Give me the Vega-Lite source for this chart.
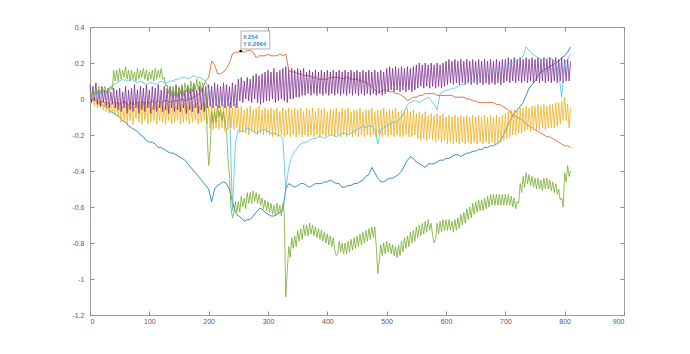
{
"$schema":"https://vega.github.io/schema/vega-lite/v6.json",
"width":534,"height":288,
"autosize":{"type":"none"},
"padding":{"left":90,"top":27,"right":66,"bottom":39},
"background":"white",
"config":{"view":{"stroke":"#a0a0a0","strokeWidth":1},"axis":{"domain":false,"ticks":true,"tickColor":"#8c8c8c","labelColor":"#595959","labelFont":"Liberation Sans","labelFontSize":7,"grid":false,"tickSize":4,"tickWidth":1,"title":null}},
"datasets":{"lines":[
{"x":0,"a":0.0,"b":0.0,"c":0.02,"d":0.08,"e":0.04,"f":0.0},
{"x":2.5,"c":-0.02,"d":-0.02,"e":0.02},
{"x":5,"a":0.01,"b":-0.01,"c":0.01,"d":0.07,"e":0.06,"f":0.01},
{"x":7.5,"c":-0.04,"d":-0.01,"e":0.02},
{"x":10,"a":-0.01,"b":-0.01,"c":0.01,"d":0.09,"e":0.05,"f":0.02},
{"x":12.5,"c":-0.05,"d":-0.03,"e":0.03},
{"x":15,"a":-0.02,"b":-0.02,"c":-0.01,"d":0.05,"e":0.07,"f":0.03},
{"x":17.5,"c":-0.05,"d":-0.04,"e":0.03},
{"x":20,"a":-0.03,"b":-0.01,"c":-0.01,"d":0.07,"e":0.06,"f":0.04},
{"x":22.5,"c":-0.06,"d":-0.02,"e":0.04},
{"x":25,"a":-0.04,"b":-0.02,"c":-0.02,"d":0.05,"e":0.07,"f":0.03},
{"x":27.5,"c":-0.07,"d":-0.04,"e":0.03},
{"x":30,"a":-0.05,"b":-0.02,"c":-0.02,"d":0.06,"e":0.06,"f":0.05},
{"x":32.5,"c":-0.08,"d":-0.05,"e":0.04},
{"x":35,"a":-0.07,"b":-0.03,"c":-0.03,"d":0.04,"e":0.07,"f":0.07},
{"x":37.5,"c":-0.07,"d":-0.03,"e":0.05},
{"x":40,"a":-0.08,"b":-0.02,"c":-0.03,"d":0.06,"e":0.16,"f":0.08},
{"x":42.5,"c":-0.09,"d":-0.05,"e":0.1},
{"x":45,"a":-0.09,"b":-0.02,"c":-0.02,"d":0.05,"e":0.16,"f":0.09},
{"x":47.5,"c":-0.1,"d":-0.06,"e":0.1},
{"x":50,"a":-0.1,"b":-0.03,"c":-0.02,"d":0.06,"e":0.17,"f":0.1},
{"x":52.5,"c":-0.13,"d":-0.07,"e":0.11},
{"x":55,"a":-0.12,"b":-0.02,"c":-0.04,"d":0.04,"e":0.16,"f":0.11},
{"x":57.5,"c":-0.12,"d":-0.05,"e":0.12},
{"x":60,"a":-0.13,"b":-0.02,"c":-0.01,"d":0.07,"e":0.18,"f":0.1},
{"x":62.5,"c":-0.14,"d":-0.08,"e":0.11},
{"x":65,"a":-0.15,"b":-0.03,"c":-0.03,"d":0.05,"e":0.16,"f":0.1},
{"x":67.5,"c":-0.12,"d":-0.06,"e":0.1},
{"x":70,"a":-0.16,"b":-0.02,"c":-0.02,"d":0.06,"e":0.16,"f":0.11},
{"x":72.5,"c":-0.14,"d":-0.07,"e":0.11},
{"x":75,"a":-0.17,"b":-0.03,"c":-0.04,"d":0.08,"e":0.15,"f":0.1},
{"x":77.5,"c":-0.11,"d":-0.05,"e":0.1},
{"x":80,"a":-0.18,"b":-0.02,"c":-0.02,"d":0.05,"e":0.17,"f":0.09},
{"x":82.5,"c":-0.13,"d":-0.08,"e":0.11},
{"x":85,"a":-0.2,"b":-0.02,"c":-0.03,"d":0.07,"e":0.16,"f":0.1},
{"x":87.5,"c":-0.14,"d":-0.06,"e":0.12},
{"x":90,"a":-0.21,"b":-0.03,"c":-0.01,"d":0.06,"e":0.17,"f":0.09},
{"x":92.5,"c":-0.12,"d":-0.07,"e":0.11},
{"x":95,"a":-0.23,"b":-0.02,"c":-0.03,"d":0.08,"e":0.16,"f":0.08},
{"x":97.5,"c":-0.14,"d":-0.05,"e":0.1},
{"x":100,"a":-0.24,"b":-0.02,"c":-0.02,"d":0.05,"e":0.15,"f":0.09},
{"x":102.5,"c":-0.13,"d":-0.08,"e":0.11},
{"x":105,"a":-0.24,"b":-0.01,"c":-0.04,"d":0.07,"e":0.16,"f":0.09},
{"x":107.5,"c":-0.12,"d":-0.06,"e":0.1},
{"x":110,"a":-0.25,"b":-0.02,"c":-0.02,"d":0.06,"e":0.17,"f":0.08},
{"x":112.5,"c":-0.14,"d":-0.07,"e":0.11},
{"x":115,"a":-0.27,"b":-0.01,"c":-0.03,"d":0.08,"e":0.16,"f":0.09},
{"x":117.5,"c":-0.12,"d":-0.05,"e":0.12},
{"x":120,"a":-0.27,"b":-0.02,"c":-0.02,"d":0.05,"e":0.17,"f":0.1},
{"x":122.5,"c":-0.13,"d":-0.07,"e":0.11},
{"x":125,"a":-0.28,"b":-0.01,"c":-0.04,"d":0.07,"e":0.12,"f":0.09},
{"x":127.5,"c":-0.14,"d":-0.06,"e":0.07},
{"x":130,"a":-0.29,"b":-0.01,"c":-0.02,"d":0.06,"e":0.08,"f":0.09},
{"x":132.5,"c":-0.12,"d":-0.08,"e":0.03},
{"x":135,"a":-0.3,"b":-0.02,"c":-0.03,"d":0.07,"e":0.07,"f":0.1},
{"x":137.5,"c":-0.14,"d":-0.05,"e":0.02},
{"x":140,"a":-0.3,"b":-0.01,"c":-0.02,"d":0.05,"e":0.07,"f":0.1},
{"x":142.5,"c":-0.13,"d":-0.07,"e":0.02},
{"x":145,"a":-0.31,"b":-0.01,"c":-0.04,"d":0.08,"e":0.06,"f":0.11},
{"x":147.5,"c":-0.12,"d":-0.06,"e":0.01},
{"x":150,"a":-0.32,"b":-0.01,"c":-0.02,"d":0.06,"e":0.07,"f":0.11},
{"x":152.5,"c":-0.14,"d":-0.07,"e":0.03},
{"x":155,"a":-0.33,"b":0.0,"c":-0.03,"d":0.07,"e":0.08,"f":0.12},
{"x":157.5,"c":-0.13,"d":-0.05,"e":0.02},
{"x":160,"a":-0.34,"b":-0.01,"c":-0.02,"d":0.05,"e":0.09,"f":0.12},
{"x":162.5,"c":-0.12,"d":-0.08,"e":0.04},
{"x":165,"a":-0.36,"b":0.0,"c":-0.04,"d":0.07,"e":0.08,"f":0.11},
{"x":167.5,"c":-0.14,"d":-0.06,"e":0.03},
{"x":170,"a":-0.38,"b":0.0,"c":-0.02,"d":0.06,"e":0.1,"f":0.12},
{"x":172.5,"c":-0.13,"d":-0.07,"e":0.04},
{"x":175,"a":-0.4,"b":0.01,"c":-0.03,"d":0.08,"e":0.09,"f":0.13},
{"x":177.5,"c":-0.12,"d":-0.05,"e":0.05},
{"x":180,"a":-0.42,"b":0.02,"c":-0.02,"d":0.05,"e":0.11,"f":0.12},
{"x":182.5,"c":-0.14,"d":-0.08,"e":0.05},
{"x":185,"a":-0.44,"b":0.03,"c":-0.04,"d":0.07,"e":0.1,"f":0.12},
{"x":187.5,"c":-0.13,"d":-0.06,"e":0.04},
{"x":190,"a":-0.46,"b":0.06,"c":-0.02,"d":0.06,"e":0.09,"f":0.11},
{"x":192.5,"c":-0.12,"d":-0.07,"e":0.02},
{"x":195,"a":-0.48,"b":0.1,"c":-0.03,"d":0.07,"e":0.03,"f":0.1},
{"x":197.5,"c":-0.14,"d":-0.05,"e":-0.2},
{"x":200,"a":-0.5,"b":0.12,"c":-0.04,"d":0.08,"e":-0.37,"f":0.05},
{"x":202.5,"c":-0.16,"d":-0.04,"e":-0.28},
{"x":205,"a":-0.57,"b":0.21,"c":-0.03,"d":0.07,"e":-0.07,"f":0.01},
{"x":207.5,"c":-0.17,"d":-0.05,"e":-0.13},
{"x":210,"a":-0.5,"b":0.19,"c":-0.05,"d":0.09,"e":-0.07,"f":0.0},
{"x":212.5,"c":-0.16,"d":-0.04,"e":-0.13},
{"x":215,"a":-0.48,"b":0.14,"c":-0.03,"d":0.08,"e":-0.04,"f":-0.01},
{"x":217.5,"c":-0.17,"d":-0.05,"e":-0.1},
{"x":220,"a":-0.47,"b":0.14,"c":-0.04,"d":0.07,"e":-0.06,"f":0.0},
{"x":222.5,"c":-0.16,"d":-0.04,"e":-0.12},
{"x":225,"a":-0.46,"b":0.15,"c":-0.03,"d":0.09,"e":-0.07,"f":0.0},
{"x":227.5,"c":-0.18,"d":-0.05,"e":-0.14},
{"x":230,"a":-0.47,"b":0.17,"c":-0.04,"d":0.08,"e":-0.17,"f":-0.01},
{"x":232.5,"c":-0.17,"d":-0.04,"e":-0.33},
{"x":235,"a":-0.5,"b":0.2,"c":-0.03,"d":0.07,"e":-0.42,"f":-0.02},
{"x":237.5,"c":-0.16,"d":-0.05,"e":-0.6},
{"x":240,"a":-0.57,"b":0.25,"c":-0.05,"d":0.09,"e":-0.66,"f":-0.62},
{"x":242.5,"c":-0.17,"d":-0.04,"e":-0.63},
{"x":245,"a":-0.63,"b":0.26,"c":-0.03,"d":0.08,"e":-0.57,"f":-0.25},
{"x":247.5,"c":-0.16,"d":-0.05,"e":-0.63},
{"x":250,"a":-0.65,"b":0.26,"c":-0.05,"d":0.11,"e":-0.57,"f":-0.17},
{"x":252.5,"c":-0.19,"d":-0.01,"e":-0.63},
{"x":255,"a":-0.66,"b":0.266,"c":-0.04,"d":0.12,"e":-0.54,"f":-0.18},
{"x":257.5,"c":-0.18,"d":-0.02,"e":-0.6},
{"x":260,"a":-0.68,"b":0.26,"c":-0.06,"d":0.1,"e":-0.55,"f":-0.18},
{"x":262.5,"c":-0.19,"d":0.0,"e":-0.61},
{"x":265,"a":-0.67,"b":0.27,"c":-0.05,"d":0.12,"e":-0.52,"f":-0.16},
{"x":267.5,"c":-0.2,"d":-0.01,"e":-0.58},
{"x":270,"a":-0.67,"b":0.27,"c":-0.04,"d":0.11,"e":-0.52,"f":-0.17},
{"x":272.5,"c":-0.18,"d":-0.02,"e":-0.58},
{"x":275,"a":-0.65,"b":0.26,"c":-0.06,"d":0.13,"e":-0.51,"f":-0.18},
{"x":277.5,"c":-0.19,"d":0.0,"e":-0.57},
{"x":280,"a":-0.63,"b":0.23,"c":-0.05,"d":0.14,"e":-0.52,"f":-0.19},
{"x":282.5,"c":-0.2,"d":-0.02,"e":-0.58},
{"x":285,"a":-0.61,"b":0.24,"c":-0.04,"d":0.13,"e":-0.53,"f":-0.18},
{"x":287.5,"c":-0.19,"d":-0.03,"e":-0.59},
{"x":290,"a":-0.61,"b":0.24,"c":-0.06,"d":0.14,"e":-0.55,"f":-0.17},
{"x":292.5,"c":-0.2,"d":-0.02,"e":-0.61},
{"x":295,"a":-0.63,"b":0.24,"c":-0.05,"d":0.15,"e":-0.56,"f":-0.17},
{"x":297.5,"c":-0.19,"d":-0.01,"e":-0.62},
{"x":300,"a":-0.64,"b":0.25,"c":-0.06,"d":0.16,"e":-0.57,"f":-0.18},
{"x":302.5,"c":-0.2,"d":-0.01,"e":-0.63},
{"x":305,"a":-0.65,"b":0.24,"c":-0.05,"d":0.15,"e":-0.58,"f":-0.19},
{"x":307.5,"c":-0.21,"d":0.0,"e":-0.64},
{"x":310,"a":-0.65,"b":0.24,"c":-0.06,"d":0.17,"e":-0.59,"f":-0.19},
{"x":312.5,"c":-0.2,"d":-0.02,"e":-0.65},
{"x":315,"a":-0.64,"b":0.24,"c":-0.05,"d":0.15,"e":-0.58,"f":-0.2},
{"x":317.5,"c":-0.21,"d":-0.01,"e":-0.64},
{"x":320,"a":-0.63,"b":0.25,"c":-0.07,"d":0.16,"e":-0.59,"f":-0.2},
{"x":322.5,"c":-0.2,"d":0.0,"e":-0.65},
{"x":325,"a":-0.62,"b":0.24,"c":-0.05,"d":0.17,"e":-0.58,"f":-0.22},
{"x":327.5,"c":-0.21,"d":-0.01,"e":-0.64},
{"x":330,"a":-0.5,"b":0.25,"c":-0.06,"d":0.18,"e":-1.1,"f":-0.5},
{"x":332.5,"c":-0.2,"d":-0.02,"e":-0.95},
{"x":335,"a":-0.47,"b":0.16,"c":-0.05,"d":0.16,"e":-0.82,"f":-0.38},
{"x":337.5,"c":-0.21,"d":0.0,"e":-0.88},
{"x":340,"a":-0.48,"b":0.15,"c":-0.06,"d":0.17,"e":-0.77,"f":-0.32},
{"x":342.5,"c":-0.2,"d":0.0,"e":-0.83},
{"x":345,"a":-0.49,"b":0.15,"c":-0.05,"d":0.16,"e":-0.76,"f":-0.29},
{"x":347.5,"c":-0.21,"d":0.01,"e":-0.82},
{"x":350,"a":-0.48,"b":0.14,"c":-0.06,"d":0.17,"e":-0.73,"f":-0.27},
{"x":352.5,"c":-0.2,"d":0.01,"e":-0.79},
{"x":355,"a":-0.47,"b":0.14,"c":-0.05,"d":0.16,"e":-0.72,"f":-0.25},
{"x":357.5,"c":-0.21,"d":0.02,"e":-0.78},
{"x":360,"a":-0.47,"b":0.13,"c":-0.07,"d":0.17,"e":-0.7,"f":-0.24},
{"x":362.5,"c":-0.2,"d":0.02,"e":-0.76},
{"x":365,"a":-0.48,"b":0.13,"c":-0.05,"d":0.15,"e":-0.7,"f":-0.24},
{"x":367.5,"c":-0.21,"d":0.03,"e":-0.76},
{"x":370,"a":-0.49,"b":0.13,"c":-0.06,"d":0.16,"e":-0.69,"f":-0.23},
{"x":372.5,"c":-0.2,"d":0.02,"e":-0.75},
{"x":375,"a":-0.48,"b":0.12,"c":-0.05,"d":0.15,"e":-0.7,"f":-0.22},
{"x":377.5,"c":-0.21,"d":0.03,"e":-0.76},
{"x":380,"a":-0.47,"b":0.12,"c":-0.07,"d":0.16,"e":-0.71,"f":-0.22},
{"x":382.5,"c":-0.2,"d":0.02,"e":-0.77},
{"x":385,"a":-0.47,"b":0.11,"c":-0.05,"d":0.15,"e":-0.72,"f":-0.21},
{"x":387.5,"c":-0.21,"d":0.03,"e":-0.78},
{"x":390,"a":-0.47,"b":0.11,"c":-0.06,"d":0.16,"e":-0.73,"f":-0.21},
{"x":392.5,"c":-0.2,"d":0.02,"e":-0.79},
{"x":395,"a":-0.46,"b":0.11,"c":-0.05,"d":0.15,"e":-0.74,"f":-0.22},
{"x":397.5,"c":-0.21,"d":0.03,"e":-0.8},
{"x":400,"a":-0.46,"b":0.11,"c":-0.07,"d":0.16,"e":-0.75,"f":-0.21},
{"x":402.5,"c":-0.2,"d":0.02,"e":-0.81},
{"x":405,"a":-0.45,"b":0.12,"c":-0.06,"d":0.15,"e":-0.76,"f":-0.2},
{"x":407.5,"c":-0.2,"d":0.03,"e":-0.82},
{"x":410,"a":-0.46,"b":0.12,"c":-0.06,"d":0.16,"e":-0.77,"f":-0.2},
{"x":412.5,"c":-0.21,"d":0.02,"e":-0.84},
{"x":415,"a":-0.47,"b":0.12,"c":-0.05,"d":0.15,"e":-0.87,"f":-0.21},
{"x":417.5,"c":-0.2,"d":0.03,"e":-0.86},
{"x":420,"a":-0.47,"b":0.12,"c":-0.07,"d":0.16,"e":-0.79,"f":-0.2},
{"x":422.5,"c":-0.21,"d":0.02,"e":-0.85},
{"x":425,"a":-0.49,"b":0.11,"c":-0.05,"d":0.15,"e":-0.8,"f":-0.19},
{"x":427.5,"c":-0.2,"d":0.03,"e":-0.86},
{"x":430,"a":-0.49,"b":0.12,"c":-0.06,"d":0.16,"e":-0.8,"f":-0.19},
{"x":432.5,"c":-0.21,"d":0.02,"e":-0.86},
{"x":435,"a":-0.48,"b":0.12,"c":-0.05,"d":0.15,"e":-0.79,"f":-0.2},
{"x":437.5,"c":-0.2,"d":0.03,"e":-0.85},
{"x":440,"a":-0.48,"b":0.11,"c":-0.07,"d":0.16,"e":-0.78,"f":-0.19},
{"x":442.5,"c":-0.21,"d":0.02,"e":-0.84},
{"x":445,"a":-0.47,"b":0.11,"c":-0.06,"d":0.15,"e":-0.77,"f":-0.18},
{"x":447.5,"c":-0.2,"d":0.03,"e":-0.83},
{"x":450,"a":-0.47,"b":0.11,"c":-0.06,"d":0.16,"e":-0.76,"f":-0.17},
{"x":452.5,"c":-0.21,"d":0.02,"e":-0.82},
{"x":455,"a":-0.46,"b":0.1,"c":-0.05,"d":0.15,"e":-0.75,"f":-0.16},
{"x":457.5,"c":-0.2,"d":0.03,"e":-0.81},
{"x":460,"a":-0.45,"b":0.1,"c":-0.07,"d":0.16,"e":-0.74,"f":-0.15},
{"x":462.5,"c":-0.21,"d":0.02,"e":-0.8},
{"x":465,"a":-0.43,"b":0.09,"c":-0.06,"d":0.15,"e":-0.73,"f":-0.16},
{"x":467.5,"c":-0.2,"d":0.03,"e":-0.79},
{"x":470,"a":-0.42,"b":0.08,"c":-0.06,"d":0.16,"e":-0.72,"f":-0.15},
{"x":472.5,"c":-0.21,"d":0.02,"e":-0.78},
{"x":475,"a":-0.38,"b":0.07,"c":-0.05,"d":0.15,"e":-0.71,"f":-0.15},
{"x":477.5,"c":-0.2,"d":0.03,"e":-0.77},
{"x":480,"a":-0.41,"b":0.05,"c":-0.07,"d":0.16,"e":-0.71,"f":-0.17},
{"x":482.5,"c":-0.21,"d":0.02,"e":-0.82},
{"x":485,"a":-0.44,"b":0.04,"c":-0.06,"d":0.15,"e":-0.97,"f":-0.25},
{"x":487.5,"c":-0.2,"d":0.03,"e":-0.9},
{"x":490,"a":-0.46,"b":0.04,"c":-0.06,"d":0.16,"e":-0.81,"f":-0.17},
{"x":492.5,"c":-0.21,"d":0.02,"e":-0.87},
{"x":495,"a":-0.46,"b":0.05,"c":-0.05,"d":0.15,"e":-0.8,"f":-0.16},
{"x":497.5,"c":-0.2,"d":0.03,"e":-0.86},
{"x":500,"a":-0.45,"b":0.05,"c":-0.07,"d":0.17,"e":-0.79,"f":-0.15},
{"x":502.5,"c":-0.21,"d":0.04,"e":-0.85},
{"x":505,"a":-0.44,"b":0.04,"c":-0.06,"d":0.18,"e":-0.8,"f":-0.14},
{"x":507.5,"c":-0.2,"d":0.05,"e":-0.86},
{"x":510,"a":-0.44,"b":0.04,"c":-0.06,"d":0.17,"e":-0.81,"f":-0.13},
{"x":512.5,"c":-0.21,"d":0.04,"e":-0.87},
{"x":515,"a":-0.43,"b":0.03,"c":-0.05,"d":0.18,"e":-0.82,"f":-0.13},
{"x":517.5,"c":-0.2,"d":0.05,"e":-0.88},
{"x":520,"a":-0.42,"b":0.03,"c":-0.07,"d":0.17,"e":-0.81,"f":-0.12},
{"x":522.5,"c":-0.21,"d":0.04,"e":-0.87},
{"x":525,"a":-0.4,"b":0.02,"c":-0.06,"d":0.18,"e":-0.79,"f":-0.1},
{"x":527.5,"c":-0.21,"d":0.05,"e":-0.85},
{"x":530,"a":-0.37,"b":0.01,"c":-0.06,"d":0.17,"e":-0.77,"f":-0.07},
{"x":532.5,"c":-0.2,"d":0.04,"e":-0.83},
{"x":535,"a":-0.34,"b":-0.01,"c":-0.05,"d":0.18,"e":-0.76,"f":-0.03},
{"x":537.5,"c":-0.21,"d":0.05,"e":-0.82},
{"x":540,"a":-0.32,"b":0.0,"c":-0.07,"d":0.17,"e":-0.74,"f":-0.02},
{"x":542.5,"c":-0.21,"d":0.04,"e":-0.8},
{"x":545,"a":-0.33,"b":0.01,"c":-0.06,"d":0.18,"e":-0.73,"f":-0.01},
{"x":547.5,"c":-0.2,"d":0.05,"e":-0.79},
{"x":550,"a":-0.35,"b":0.01,"c":-0.08,"d":0.19,"e":-0.71,"f":-0.01},
{"x":552.5,"c":-0.22,"d":0.06,"e":-0.77},
{"x":555,"a":-0.36,"b":0.02,"c":-0.07,"d":0.2,"e":-0.7,"f":-0.02},
{"x":557.5,"c":-0.23,"d":0.07,"e":-0.76},
{"x":560,"a":-0.37,"b":0.02,"c":-0.08,"d":0.19,"e":-0.69,"f":-0.01},
{"x":562.5,"c":-0.22,"d":0.06,"e":-0.75},
{"x":565,"a":-0.38,"b":0.03,"c":-0.07,"d":0.2,"e":-0.68,"f":0.0},
{"x":567.5,"c":-0.23,"d":0.07,"e":-0.74},
{"x":570,"a":-0.36,"b":0.03,"c":-0.09,"d":0.19,"e":-0.67,"f":0.01},
{"x":572.5,"c":-0.22,"d":0.06,"e":-0.73},
{"x":575,"a":-0.36,"b":0.03,"c":-0.08,"d":0.2,"e":-0.69,"f":-0.01},
{"x":577.5,"c":-0.23,"d":0.07,"e":-0.76},
{"x":580,"a":-0.36,"b":0.03,"c":-0.09,"d":0.19,"e":-0.8,"f":-0.03},
{"x":582.5,"c":-0.24,"d":0.06,"e":-0.78},
{"x":585,"a":-0.35,"b":0.02,"c":-0.08,"d":0.2,"e":-0.69,"f":-0.06},
{"x":587.5,"c":-0.23,"d":0.07,"e":-0.75},
{"x":590,"a":-0.34,"b":0.02,"c":-0.09,"d":0.19,"e":-0.68,"f":0.03},
{"x":592.5,"c":-0.24,"d":0.06,"e":-0.74},
{"x":595,"a":-0.34,"b":0.02,"c":-0.08,"d":0.2,"e":-0.67,"f":0.04},
{"x":597.5,"c":-0.23,"d":0.07,"e":-0.73},
{"x":600,"a":-0.33,"b":0.02,"c":-0.1,"d":0.21,"e":-0.67,"f":0.05},
{"x":602.5,"c":-0.25,"d":0.08,"e":-0.73},
{"x":605,"a":-0.33,"b":0.02,"c":-0.09,"d":0.22,"e":-0.67,"f":0.05},
{"x":607.5,"c":-0.24,"d":0.09,"e":-0.73},
{"x":610,"a":-0.32,"b":0.02,"c":-0.1,"d":0.21,"e":-0.68,"f":0.06},
{"x":612.5,"c":-0.25,"d":0.08,"e":-0.74},
{"x":615,"a":-0.31,"b":0.01,"c":-0.09,"d":0.22,"e":-0.67,"f":0.06},
{"x":617.5,"c":-0.24,"d":0.09,"e":-0.73},
{"x":620,"a":-0.31,"b":0.01,"c":-0.1,"d":0.21,"e":-0.66,"f":0.07},
{"x":622.5,"c":-0.25,"d":0.08,"e":-0.72},
{"x":625,"a":-0.32,"b":0.01,"c":-0.09,"d":0.22,"e":-0.64,"f":0.08},
{"x":627.5,"c":-0.24,"d":0.09,"e":-0.7},
{"x":630,"a":-0.31,"b":0.01,"c":-0.1,"d":0.21,"e":-0.63,"f":0.08},
{"x":632.5,"c":-0.25,"d":0.08,"e":-0.69},
{"x":635,"a":-0.3,"b":0.0,"c":-0.09,"d":0.22,"e":-0.61,"f":0.09},
{"x":637.5,"c":-0.24,"d":0.09,"e":-0.67},
{"x":640,"a":-0.3,"b":0.0,"c":-0.1,"d":0.21,"e":-0.6,"f":0.1},
{"x":642.5,"c":-0.25,"d":0.08,"e":-0.66},
{"x":645,"a":-0.29,"b":-0.01,"c":-0.09,"d":0.22,"e":-0.58,"f":0.1},
{"x":647.5,"c":-0.24,"d":0.09,"e":-0.64},
{"x":650,"a":-0.29,"b":-0.01,"c":-0.1,"d":0.21,"e":-0.57,"f":0.11},
{"x":652.5,"c":-0.25,"d":0.08,"e":-0.63},
{"x":655,"a":-0.28,"b":-0.02,"c":-0.09,"d":0.22,"e":-0.56,"f":0.11},
{"x":657.5,"c":-0.24,"d":0.09,"e":-0.62},
{"x":660,"a":-0.28,"b":-0.02,"c":-0.1,"d":0.21,"e":-0.56,"f":0.12},
{"x":662.5,"c":-0.25,"d":0.08,"e":-0.62},
{"x":665,"a":-0.27,"b":-0.02,"c":-0.09,"d":0.22,"e":-0.55,"f":0.13},
{"x":667.5,"c":-0.24,"d":0.09,"e":-0.61},
{"x":670,"a":-0.27,"b":-0.02,"c":-0.1,"d":0.21,"e":-0.54,"f":0.13},
{"x":672.5,"c":-0.25,"d":0.08,"e":-0.6},
{"x":675,"a":-0.26,"b":-0.02,"c":-0.09,"d":0.22,"e":-0.53,"f":0.14},
{"x":677.5,"c":-0.24,"d":0.09,"e":-0.59},
{"x":680,"a":-0.26,"b":-0.02,"c":-0.1,"d":0.21,"e":-0.53,"f":0.15},
{"x":682.5,"c":-0.25,"d":0.08,"e":-0.59},
{"x":685,"a":-0.25,"b":-0.03,"c":-0.09,"d":0.22,"e":-0.53,"f":0.15},
{"x":687.5,"c":-0.24,"d":0.09,"e":-0.59},
{"x":690,"a":-0.24,"b":-0.03,"c":-0.1,"d":0.21,"e":-0.53,"f":0.16},
{"x":692.5,"c":-0.24,"d":0.08,"e":-0.59},
{"x":695,"a":-0.21,"b":-0.04,"c":-0.09,"d":0.22,"e":-0.53,"f":0.17},
{"x":697.5,"c":-0.23,"d":0.09,"e":-0.59},
{"x":700,"a":-0.18,"b":-0.05,"c":-0.08,"d":0.22,"e":-0.53,"f":0.18},
{"x":702.5,"c":-0.22,"d":0.1,"e":-0.59},
{"x":705,"a":-0.14,"b":-0.06,"c":-0.07,"d":0.23,"e":-0.53,"f":0.19},
{"x":707.5,"c":-0.21,"d":0.09,"e":-0.59},
{"x":710,"a":-0.11,"b":-0.08,"c":-0.06,"d":0.22,"e":-0.54,"f":0.2},
{"x":712.5,"c":-0.2,"d":0.1,"e":-0.6},
{"x":715,"a":-0.08,"b":-0.09,"c":-0.06,"d":0.23,"e":-0.55,"f":0.2},
{"x":717.5,"c":-0.2,"d":0.09,"e":-0.61},
{"x":720,"a":-0.06,"b":-0.1,"c":-0.06,"d":0.22,"e":-0.57,"f":0.21},
{"x":722.5,"c":-0.19,"d":0.1,"e":-0.58},
{"x":725,"a":-0.04,"b":-0.11,"c":-0.05,"d":0.23,"e":-0.47,"f":0.22},
{"x":727.5,"c":-0.19,"d":0.09,"e":-0.52},
{"x":730,"a":-0.02,"b":-0.12,"c":-0.05,"d":0.22,"e":-0.43,"f":0.24},
{"x":732.5,"c":-0.18,"d":0.1,"e":-0.49},
{"x":735,"a":0.02,"b":-0.14,"c":-0.04,"d":0.23,"e":-0.41,"f":0.29},
{"x":737.5,"c":-0.17,"d":0.09,"e":-0.47},
{"x":740,"a":0.06,"b":-0.15,"c":-0.05,"d":0.22,"e":-0.42,"f":0.27},
{"x":742.5,"c":-0.18,"d":0.1,"e":-0.48},
{"x":745,"a":0.08,"b":-0.16,"c":-0.04,"d":0.23,"e":-0.43,"f":0.25},
{"x":747.5,"c":-0.17,"d":0.09,"e":-0.49},
{"x":750,"a":0.1,"b":-0.17,"c":-0.04,"d":0.22,"e":-0.44,"f":0.24},
{"x":752.5,"c":-0.17,"d":0.1,"e":-0.5},
{"x":755,"a":0.13,"b":-0.18,"c":-0.03,"d":0.23,"e":-0.44,"f":0.23},
{"x":757.5,"c":-0.17,"d":0.09,"e":-0.5},
{"x":760,"a":0.15,"b":-0.19,"c":-0.04,"d":0.22,"e":-0.45,"f":0.22},
{"x":762.5,"c":-0.16,"d":0.1,"e":-0.51},
{"x":765,"a":0.16,"b":-0.2,"c":-0.03,"d":0.23,"e":-0.44,"f":0.22},
{"x":767.5,"c":-0.17,"d":0.09,"e":-0.5},
{"x":770,"a":0.17,"b":-0.21,"c":-0.04,"d":0.22,"e":-0.44,"f":0.22},
{"x":772.5,"c":-0.16,"d":0.1,"e":-0.5},
{"x":775,"a":0.18,"b":-0.21,"c":-0.03,"d":0.23,"e":-0.45,"f":0.23},
{"x":777.5,"c":-0.16,"d":0.09,"e":-0.51},
{"x":780,"a":0.19,"b":-0.22,"c":-0.03,"d":0.22,"e":-0.46,"f":0.22},
{"x":782.5,"c":-0.16,"d":0.1,"e":-0.52},
{"x":785,"a":0.2,"b":-0.23,"c":-0.02,"d":0.23,"e":-0.47,"f":0.2},
{"x":787.5,"c":-0.15,"d":0.09,"e":-0.53},
{"x":790,"a":0.21,"b":-0.24,"c":-0.02,"d":0.22,"e":-0.5,"f":0.15},
{"x":792.5,"c":-0.14,"d":0.1,"e":-0.56},
{"x":795,"a":0.23,"b":-0.25,"c":-0.01,"d":0.23,"e":-0.55,"f":0.01},
{"x":797.5,"c":-0.12,"d":0.09,"e":-0.6},
{"x":800,"a":0.24,"b":-0.26,"c":0.01,"d":0.22,"e":-0.41,"f":0.2},
{"x":802.5,"c":-0.12,"d":0.1,"e":-0.46},
{"x":805,"a":0.26,"b":-0.26,"c":-0.03,"d":0.22,"e":-0.37,"f":0.22},
{"x":807.5,"c":-0.16,"d":0.1,"e":-0.43},
{"x":810,"a":0.29,"b":-0.27,"c":-0.05,"d":0.21,"e":-0.4,"f":0.25}
],
"tip":[{"x":254,"y":0.2664}]},
"layer":[
{"data":{"name":"lines"},
 "transform":[{"fold":["a","b","c","d","e","f"],"as":["s","v"]},{"filter":"isValid(datum.v)"}],
 "mark":{"type":"line","strokeWidth":0.8,"interpolate":"linear"},
 "encoding":{
  "x":{"field":"x","type":"quantitative","scale":{"domain":[0,900],"nice":false,"zero":false},
       "axis":{"orient":"bottom","offset":-4,"values":[0,100,200,300,400,500,600,700,800,900],"labelPadding":2}},
  "y":{"field":"v","type":"quantitative","scale":{"domain":[-1.2,0.4],"nice":false,"zero":false},
       "axis":{"orient":"left","offset":-4,"values":[-1.2,-1,-0.8,-0.6,-0.4,-0.2,0,0.2,0.4],"labelPadding":6,
               "labelExpr":"replace(format(datum.value,'.1~f'),'\u2212','-')"}},
  "color":{"field":"s","type":"nominal","legend":null,
           "scale":{"domain":["a","b","c","d","e","f"],"range":["#0072BD","#D95319","#EDB120","#7E2F8E","#77AC30","#4DBEEE"]}}
 }},
{"data":{"name":"tip"},
 "mark":{"type":"point","opacity":0},
 "encoding":{
  "x":{"field":"x","type":"quantitative","axis":{"orient":"top","offset":-4,"labels":false,"values":[0,100,200,300,400,500,600,700,800,900]}},
  "y":{"field":"y","type":"quantitative","axis":{"orient":"right","offset":-4,"labels":false,"values":[-1.2,-1,-0.8,-0.6,-0.4,-0.2,0,0.2,0.4]}}
 }},
{"data":{"name":"tip"},
 "mark":{"type":"rect","fill":"white","stroke":"#9a9a9a","strokeWidth":0.8},
 "encoding":{
  "x":{"datum":254.5,"type":"quantitative","axis":null},
  "x2":{"datum":303},
  "y":{"datum":0.378,"type":"quantitative","axis":null},
  "y2":{"datum":0.278}
 }},
{"data":{"name":"tip"},
 "mark":{"type":"point","filled":true,"color":"black","size":8,"opacity":1},
 "encoding":{
  "x":{"field":"x","type":"quantitative","axis":null},
  "y":{"field":"y","type":"quantitative","axis":null}
 }},
{"data":{"name":"tip"},
 "mark":{"type":"text","text":"X","font":"Liberation Sans","fontSize":6,"color":"#404040","align":"left","baseline":"middle"},
 "encoding":{"x":{"datum":258,"type":"quantitative","axis":null},"y":{"datum":0.345,"type":"quantitative","axis":null}}},
{"data":{"name":"tip"},
 "mark":{"type":"text","text":"254","font":"Liberation Sans","fontSize":6,"fontWeight":"bold","color":"#1f8fd0","align":"left","baseline":"middle"},
 "encoding":{"x":{"datum":266,"type":"quantitative","axis":null},"y":{"datum":0.345,"type":"quantitative","axis":null}}},
{"data":{"name":"tip"},
 "mark":{"type":"text","text":"Y","font":"Liberation Sans","fontSize":6,"color":"#404040","align":"left","baseline":"middle"},
 "encoding":{"x":{"datum":258,"type":"quantitative","axis":null},"y":{"datum":0.307,"type":"quantitative","axis":null}}},
{"data":{"name":"tip"},
 "mark":{"type":"text","text":"0.2664","font":"Liberation Sans","fontSize":6,"fontWeight":"bold","color":"#1f8fd0","align":"left","baseline":"middle"},
 "encoding":{"x":{"datum":266,"type":"quantitative","axis":null},"y":{"datum":0.307,"type":"quantitative","axis":null}}}
],
"resolve":{"axis":{"x":"independent","y":"independent"}}
}
